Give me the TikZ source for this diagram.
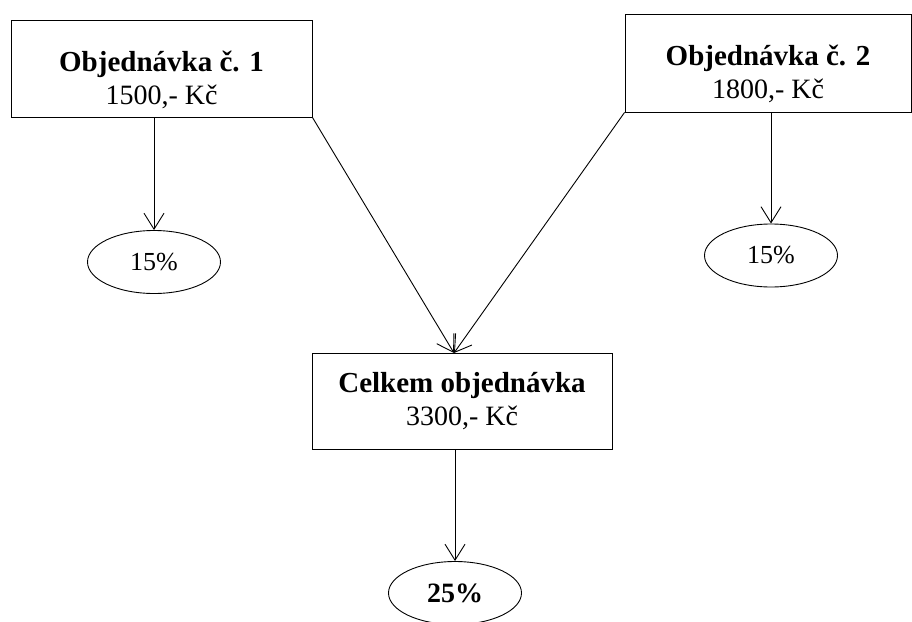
\documentclass[tikz,border=0pt]{standalone}
\usepackage{fontspec}
\setmainfont{Liberation Serif}
\usetikzlibrary{shapes.geometric,arrows.meta}
\tikzset{
  boxnode/.style={draw, line width=0.9pt, rectangle, inner sep=0pt, align=center,
    font=\fontsize{28}{33}\selectfont},
  ellnode/.style={draw, line width=0.9pt, ellipse, inner sep=0pt,
    minimum width=133pt, minimum height=63pt, font=\fontsize{26}{30}\selectfont},
  arr/.style={line width=0.9pt, -{Straight Barb[length=16pt,width=20pt,line width=0.9pt]}}
}
\begin{document}
\begin{tikzpicture}[x=1pt,y=-1pt]
\useasboundingbox (0,0) rectangle (912,621);
\node[boxnode, minimum width=301pt, minimum height=97pt] (b1) at (161.5,68.5)
  {\rule{0pt}{44pt}\textbf{\fontsize{29}{33}\selectfont Objednávka č. 1}\\1500,- Kč};
\node[boxnode, minimum width=286pt, minimum height=98pt] (b2) at (768,63)
  {\rule{0pt}{42pt}\textbf{\fontsize{29}{33}\selectfont Objednávka č. 2}\\1800,- Kč};
\node[boxnode, minimum width=300pt, minimum height=96pt] (b3) at (462,401)
  {\textbf{\fontsize{29}{33}\selectfont Celkem objednávka}\\3300,- Kč};
\node[ellnode] (e1) at (154,262) {\raisebox{-3pt}{15\%}};
\node[ellnode] (e2) at (771,255.5) {15\%};
\node[ellnode, font=\fontsize{28}{30}\selectfont\bfseries] (e3) at (455,593) {25\%};
\coordinate (m) at (454,353);
\draw[arr] (e1.north |- b1.south) -- (e1.north);
\draw[arr] (e2.north |- b2.south) -- (e2.north);
\draw[arr] (b1.south east) -- (m);
\draw[arr] (b2.south west) -- (m);
\draw[arr] (e3.north |- b3.south) -- (e3.north);
\end{tikzpicture}
\end{document}
